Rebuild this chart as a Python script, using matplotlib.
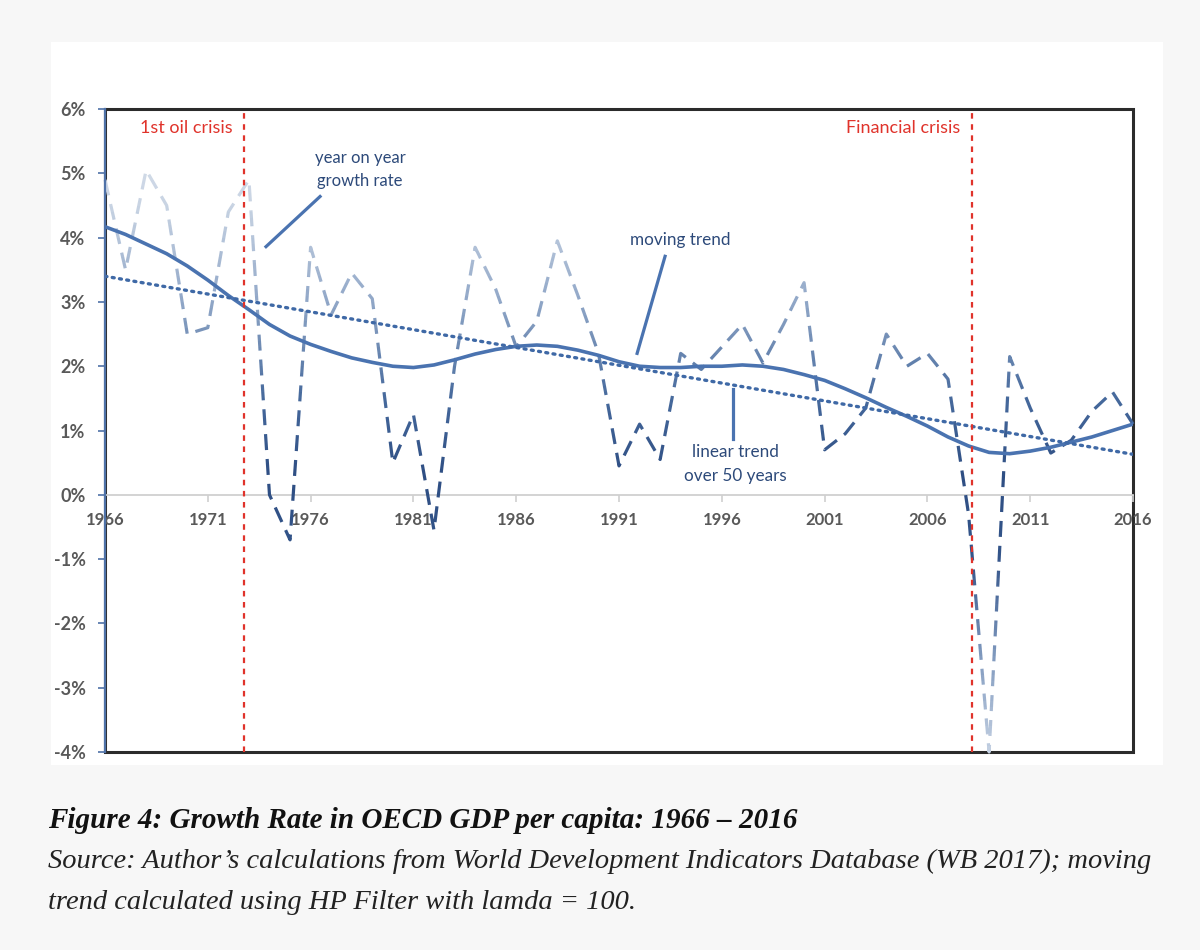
import numpy as np
import matplotlib
matplotlib.use("Agg")
import matplotlib.pyplot as plt
from matplotlib.patches import Rectangle
from matplotlib.colors import to_rgb

years = list(range(1966, 2017))
growth = [4.9, 3.5, 5.05, 4.5, 2.5, 2.6, 4.4, 4.9, 0.0, -0.7,
          3.85, 2.8, 3.45, 3.05, 0.5, 1.25, -0.55, 2.0, 3.85, 3.2,
          2.3, 2.7, 3.95, 3.1, 2.2, 0.45, 1.1, 0.55, 2.2, 1.95,
          2.3, 2.65, 2.05, 2.65, 3.3, 0.7, 0.95, 1.35, 2.5, 2.0,
          2.2, 1.8, -0.3, -4.0, 2.15, 1.35, 0.65, 0.85, 1.3, 1.6,
          1.1]
hp_trend = [4.17, 4.05, 3.9, 3.75, 3.56, 3.34, 3.1, 2.88, 2.65, 2.47,
            2.34, 2.23, 2.13, 2.06, 2.0, 1.98, 2.02, 2.1, 2.19, 2.26,
            2.31, 2.33, 2.31, 2.25, 2.17, 2.07, 2.0, 1.98, 1.98, 2.0,
            2.0, 2.02, 2.0, 1.95, 1.87, 1.78, 1.65, 1.51, 1.36, 1.22,
            1.07, 0.9, 0.76, 0.66, 0.64, 0.68, 0.74, 0.82, 0.9, 1.0,
            1.1]
linear_years = [1966, 2016]
linear_trend = [3.4, 0.63]
crisis_years = [1972.77, 2008.17]
crisis_labels = ["1st oil crisis", "Financial crisis"]
yticks = [-4, -3, -2, -1, 0, 1, 2, 3, 4, 5, 6]
xticks = list(range(1966, 2017, 5))

blue = "#4a73b0"
navy = "#2d4a7a"
grey_txt = "#595959"
red = "#e0332b"

fig = plt.figure(figsize=(12, 9.5), dpi=100)
fig.patch.set_facecolor("#f7f7f7")
fig.patches.append(Rectangle((0.0425, 0.195), 0.927, 0.761, transform=fig.transFigure,
                             facecolor="white", edgecolor="none", zorder=-5))
ax = fig.add_axes([0.0875, 0.2084, 0.8567, 0.6768])
ax.set_zorder(2)
ax.set_facecolor("white")
ax.set_xlim(1966, 2016)
ax.set_ylim(-4, 6)

# year on year growth, dashed, colour fades with distance from zero
anchors_v = [-4.2, -2.5, -1.0, 0.3, 1.5, 3.0, 4.5, 6.2]
anchors_c = ["#cdd8e7", "#8099be", "#34558a", "#2e4e83", "#46699c", "#90a7c7", "#c8d3e3", "#e2e8f0"]
rgb = np.array([to_rgb(c) for c in anchors_c])
edges = np.arange(-4.3, 6.31, 0.1)
for lo, hi in zip(edges[:-1], edges[1:]):
    mid = (lo + hi) / 2
    col = [np.interp(mid, anchors_v, rgb[:, k]) for k in range(3)]
    ln, = ax.plot(years, growth, color=col, lw=2.3, dashes=(5, 2.8), zorder=3)
    ln.set_clip_path(Rectangle((1960, lo), 70, hi - lo, transform=ax.transData))

ax.plot(years, hp_trend, color=blue, lw=2.6, zorder=4, solid_capstyle="round")
ax.plot(linear_years, linear_trend, color="#3f69a6", lw=2.4, ls=(0, (0.6, 1.6)),
        dash_capstyle="round", zorder=4)

for cx, lab in zip(crisis_years, crisis_labels):
    ax.axvline(cx, color=red, lw=1.6, dashes=(2.5, 2.5), zorder=5)
    ax.text(cx - 0.55, 5.7, lab, color=red, fontsize=13, family="Lato",
            ha="right", va="center")

# annotations
ax.text(1978.4, 5.06, "year on year\ngrowth rate", color=navy, fontsize=12,
        family="Lato", ha="center", va="center", linespacing=1.6)
ax.plot([1976.46, 1973.83], [4.64, 3.86], color=blue, lw=2.3)
ax.text(1993.97, 3.96, "moving trend", color=navy, fontsize=12.3, family="Lato",
        ha="center", va="center")
ax.plot([1993.24, 1991.88], [3.71, 2.2], color=blue, lw=2.3)
ax.text(1996.64, 0.48, "linear trend\nover 50 years", color=navy, fontsize=12.3,
        family="Lato", ha="center", va="center", linespacing=1.6)
ax.plot([1996.54, 1996.54], [1.65, 0.87], color=blue, lw=2.3)

# axes styling
for s in ["top", "right"]:
    ax.spines[s].set_visible(False)
ax.spines["bottom"].set_position(("data", 0))
ax.spines["bottom"].set_color("#d0d0d0")
ax.spines["bottom"].set_linewidth(1.3)
ax.spines["left"].set_color("#4f72a8")
ax.spines["left"].set_linewidth(1.6)
ax.spines["left"].set_zorder(6)
ax.add_patch(Rectangle((0, 0), 1, 1, transform=ax.transAxes, fill=False,
                       edgecolor="#2b2b2b", lw=2.2, clip_on=False, zorder=1))

ax.set_yticks(yticks)
ax.set_yticklabels([f"{v}%" for v in yticks])
ax.set_xticks(xticks)
ax.set_xticklabels([str(v) for v in xticks])
ax.tick_params(axis="y", direction="out", length=5, width=1.2, color="#4f72a8",
               pad=9, labelsize=13, labelcolor=grey_txt)
ax.tick_params(axis="x", direction="out", length=5, width=1.2, color="#d0d0d0",
               pad=7, labelsize=12, labelcolor=grey_txt)
for t in ax.get_xticklabels() + ax.get_yticklabels():
    t.set_fontweight("bold")
    t.set_family("Lato")

fig.text(0.04, 0.136, "Figure 4: Growth Rate in OECD GDP per capita: 1966 \u2013 2016",
         family="Liberation Serif", style="italic", weight="bold", fontsize=21,
         ha="left", va="center", color="#111111")
fig.text(0.04, 0.093, "Source: Author\u2019s calculations from World Development Indicators Database (WB 2017); moving",
         family="Liberation Serif", style="italic", fontsize=20.5, ha="left", va="center",
         color="#222222")
fig.text(0.04, 0.050, "trend calculated using HP Filter with lamda = 100.",
         family="Liberation Serif", style="italic", fontsize=20.5, ha="left", va="center",
         color="#222222")

fig.savefig("out.png", dpi=100, facecolor=fig.get_facecolor())
